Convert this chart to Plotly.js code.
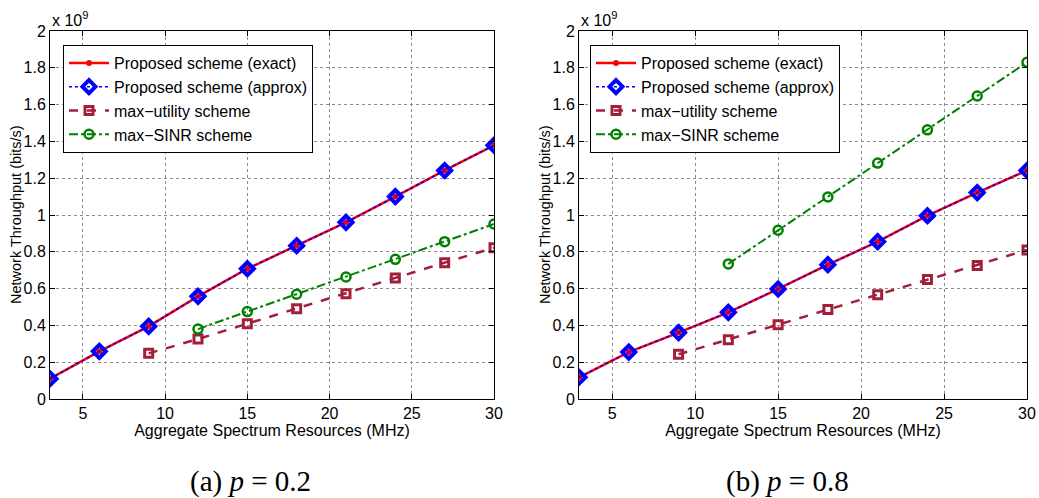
<!DOCTYPE html>
<html>
<head>
<meta charset="utf-8">
<script src="https://cdn.plot.ly/plotly-3.0.1.min.js"></script>
<style>
  html, body { margin: 0; padding: 0; background: #fff; }
  #chart { width: 1039px; height: 498px; }
</style>
</head>
<body>
<div id="chart"></div>
<script>
// Aggregate spectrum resources (MHz)
const bandwidth = [3, 6, 9, 12, 15, 18, 21, 24, 27, 30];
const bandwidthUtility = [9, 12, 15, 18, 21, 24, 27, 30];
const bandwidthSinr = [12, 15, 18, 21, 24, 27, 30];

// Network throughput, in units of 1e9 bits/s — panel (a), p = 0.2
const exactA   = [0.110, 0.259, 0.395, 0.558, 0.708, 0.833, 0.960, 1.100, 1.242, 1.379];
const approxA  = [0.110, 0.259, 0.395, 0.558, 0.708, 0.833, 0.960, 1.100, 1.242, 1.379];
const utilityA = [0.248, 0.326, 0.409, 0.491, 0.572, 0.658, 0.741, 0.822];
const sinrA    = [0.380, 0.475, 0.569, 0.663, 0.759, 0.855, 0.951];

// Panel (b), p = 0.8
const exactB   = [0.118, 0.255, 0.361, 0.471, 0.598, 0.730, 0.855, 0.996, 1.122, 1.242];
const approxB  = [0.118, 0.255, 0.361, 0.471, 0.598, 0.730, 0.855, 0.996, 1.122, 1.242];
const utilityB = [0.243, 0.322, 0.404, 0.486, 0.567, 0.649, 0.726, 0.810];
const sinrB    = [0.734, 0.917, 1.098, 1.282, 1.463, 1.647, 1.830];

const seriesNames = ['Proposed scheme (exact)', 'Proposed scheme (approx)', 'max\u2212utility scheme', 'max\u2212SINR scheme'];
const xTicks = [5, 10, 15, 20, 25, 30];
const xTitle = 'Aggregate Spectrum Resources (MHz)';
const yTitle = 'Network Throughput (bits/s)';
const captions = ['(a) <i>p</i> = 0.2', '(b) <i>p</i> = 0.8'];

const RED = '#ff0000', BLUE = '#0000ff', MAROON = '#a21f3a', GREEN = '#008000';
const SANS = 'Liberation Sans, Arial, Helvetica, sans-serif';
const SERIF = 'Liberation Serif, Times New Roman, serif';

function panelTraces(xa, ya, leg, exact, approx, utility, sinr) {
  return [
    { x: bandwidth, y: exact, name: seriesNames[0], xaxis: xa, yaxis: ya, legend: leg,
      mode: 'lines+markers', line: { color: RED, width: 2.5 },
      marker: { symbol: 'circle', size: 6, color: RED } },
    { x: bandwidth, y: approx, name: seriesNames[1], xaxis: xa, yaxis: ya, legend: leg,
      mode: 'lines+markers', line: { color: BLUE, width: 1.5, dash: 'dot' },
      marker: { symbol: 'diamond-open', size: 10, color: BLUE, line: { width: 4, color: BLUE } } },
    { x: bandwidthUtility, y: utility, name: seriesNames[2], xaxis: xa, yaxis: ya, legend: leg,
      mode: 'lines+markers', line: { color: MAROON, width: 2.5, dash: 'dash' },
      marker: { symbol: 'square-open', size: 8, color: MAROON, line: { width: 3, color: MAROON } } },
    { x: bandwidthSinr, y: sinr, name: seriesNames[3], xaxis: xa, yaxis: ya, legend: leg,
      mode: 'lines+markers', line: { color: GREEN, width: 2, dash: 'dashdot' },
      marker: { symbol: 'circle-open', size: 9, color: GREEN, line: { width: 2.5, color: GREEN } } }
  ];
}

const data = [].concat(
  panelTraces('x', 'y', 'legend', exactA, approxA, utilityA, sinrA),
  panelTraces('x2', 'y2', 'legend2', exactB, approxB, utilityB, sinrB)
);

function xAxis(domain, anchor) {
  return {
    domain: domain, anchor: anchor, range: [3, 30], tickvals: xTicks,
    ticks: 'inside', ticklen: 5, tickcolor: '#000', mirror: 'ticks',
    showline: true, linecolor: '#000', linewidth: 1,
    showgrid: true, gridcolor: '#8c8c8c', gridwidth: 1, griddash: 'dot', zeroline: false,
    tickfont: { family: SANS, size: 16, color: '#000' },
    title: { text: xTitle, font: { family: SANS, size: 16, color: '#000' }, standoff: 2 }
  };
}
function yAxis(domain, anchor) {
  return {
    domain: domain, anchor: anchor, range: [0, 2], dtick: 0.2,
    ticks: 'inside', ticklen: 5, tickcolor: '#000', mirror: 'ticks',
    showline: true, linecolor: '#000', linewidth: 1,
    showgrid: true, gridcolor: '#8c8c8c', gridwidth: 1, griddash: 'dot', zeroline: false,
    tickfont: { family: SANS, size: 16, color: '#000' }
  };
}
function legendBox(x) {
  return {
    x: x, y: 1 - 45 / 498, xanchor: 'left', yanchor: 'top',
    bgcolor: '#fff', bordercolor: '#000', borderwidth: 1,
    font: { family: SANS, size: 16, color: '#000' },
    itemwidth: 40, tracegroupgap: 0
  };
}
// y-axis title placed as a rotated label just left of the tick labels
function yLabel(px) {
  return { xref: 'paper', yref: 'paper', x: px / 1039, y: 1 - 215 / 498, xanchor: 'center', yanchor: 'middle',
    text: yTitle, textangle: -90, showarrow: false, font: { family: SANS, size: 14.5, color: '#000' } };
}
function exponent(px) {
  return { xref: 'paper', yref: 'paper', x: px / 1039, y: 1 - 19 / 498, xanchor: 'left', yanchor: 'middle',
    text: 'x 10<sup>9</sup>', showarrow: false, font: { family: SANS, size: 16, color: '#000' } };
}
function caption(px, text) {
  return { xref: 'paper', yref: 'paper', x: px / 1039, y: 1 - 481 / 498, xanchor: 'center', yanchor: 'middle',
    text: text, showarrow: false, font: { family: SERIF, size: 29, color: '#000' } };
}

const yDom = [1 - 399 / 498, 1 - 31 / 498];
const layout = {
  width: 1039, height: 498,
  margin: { l: 0, r: 0, t: 0, b: 0 },
  paper_bgcolor: '#fff', plot_bgcolor: '#fff',
  showlegend: true,
  xaxis: xAxis([50 / 1039, 494 / 1039], 'y'),
  yaxis: yAxis(yDom, 'x'),
  xaxis2: xAxis([579 / 1039, 1027 / 1039], 'y2'),
  yaxis2: yAxis(yDom, 'x2'),
  legend: legendBox(63 / 1039),
  legend2: legendBox(590 / 1039),
  annotations: [
    yLabel(16), yLabel(545),
    exponent(50), exponent(579),
    caption(250, captions[0]), caption(787, captions[1])
  ]
};

Plotly.newPlot('chart', data, layout, { staticPlot: true, displayModeBar: false });
</script>
</body>
</html>
